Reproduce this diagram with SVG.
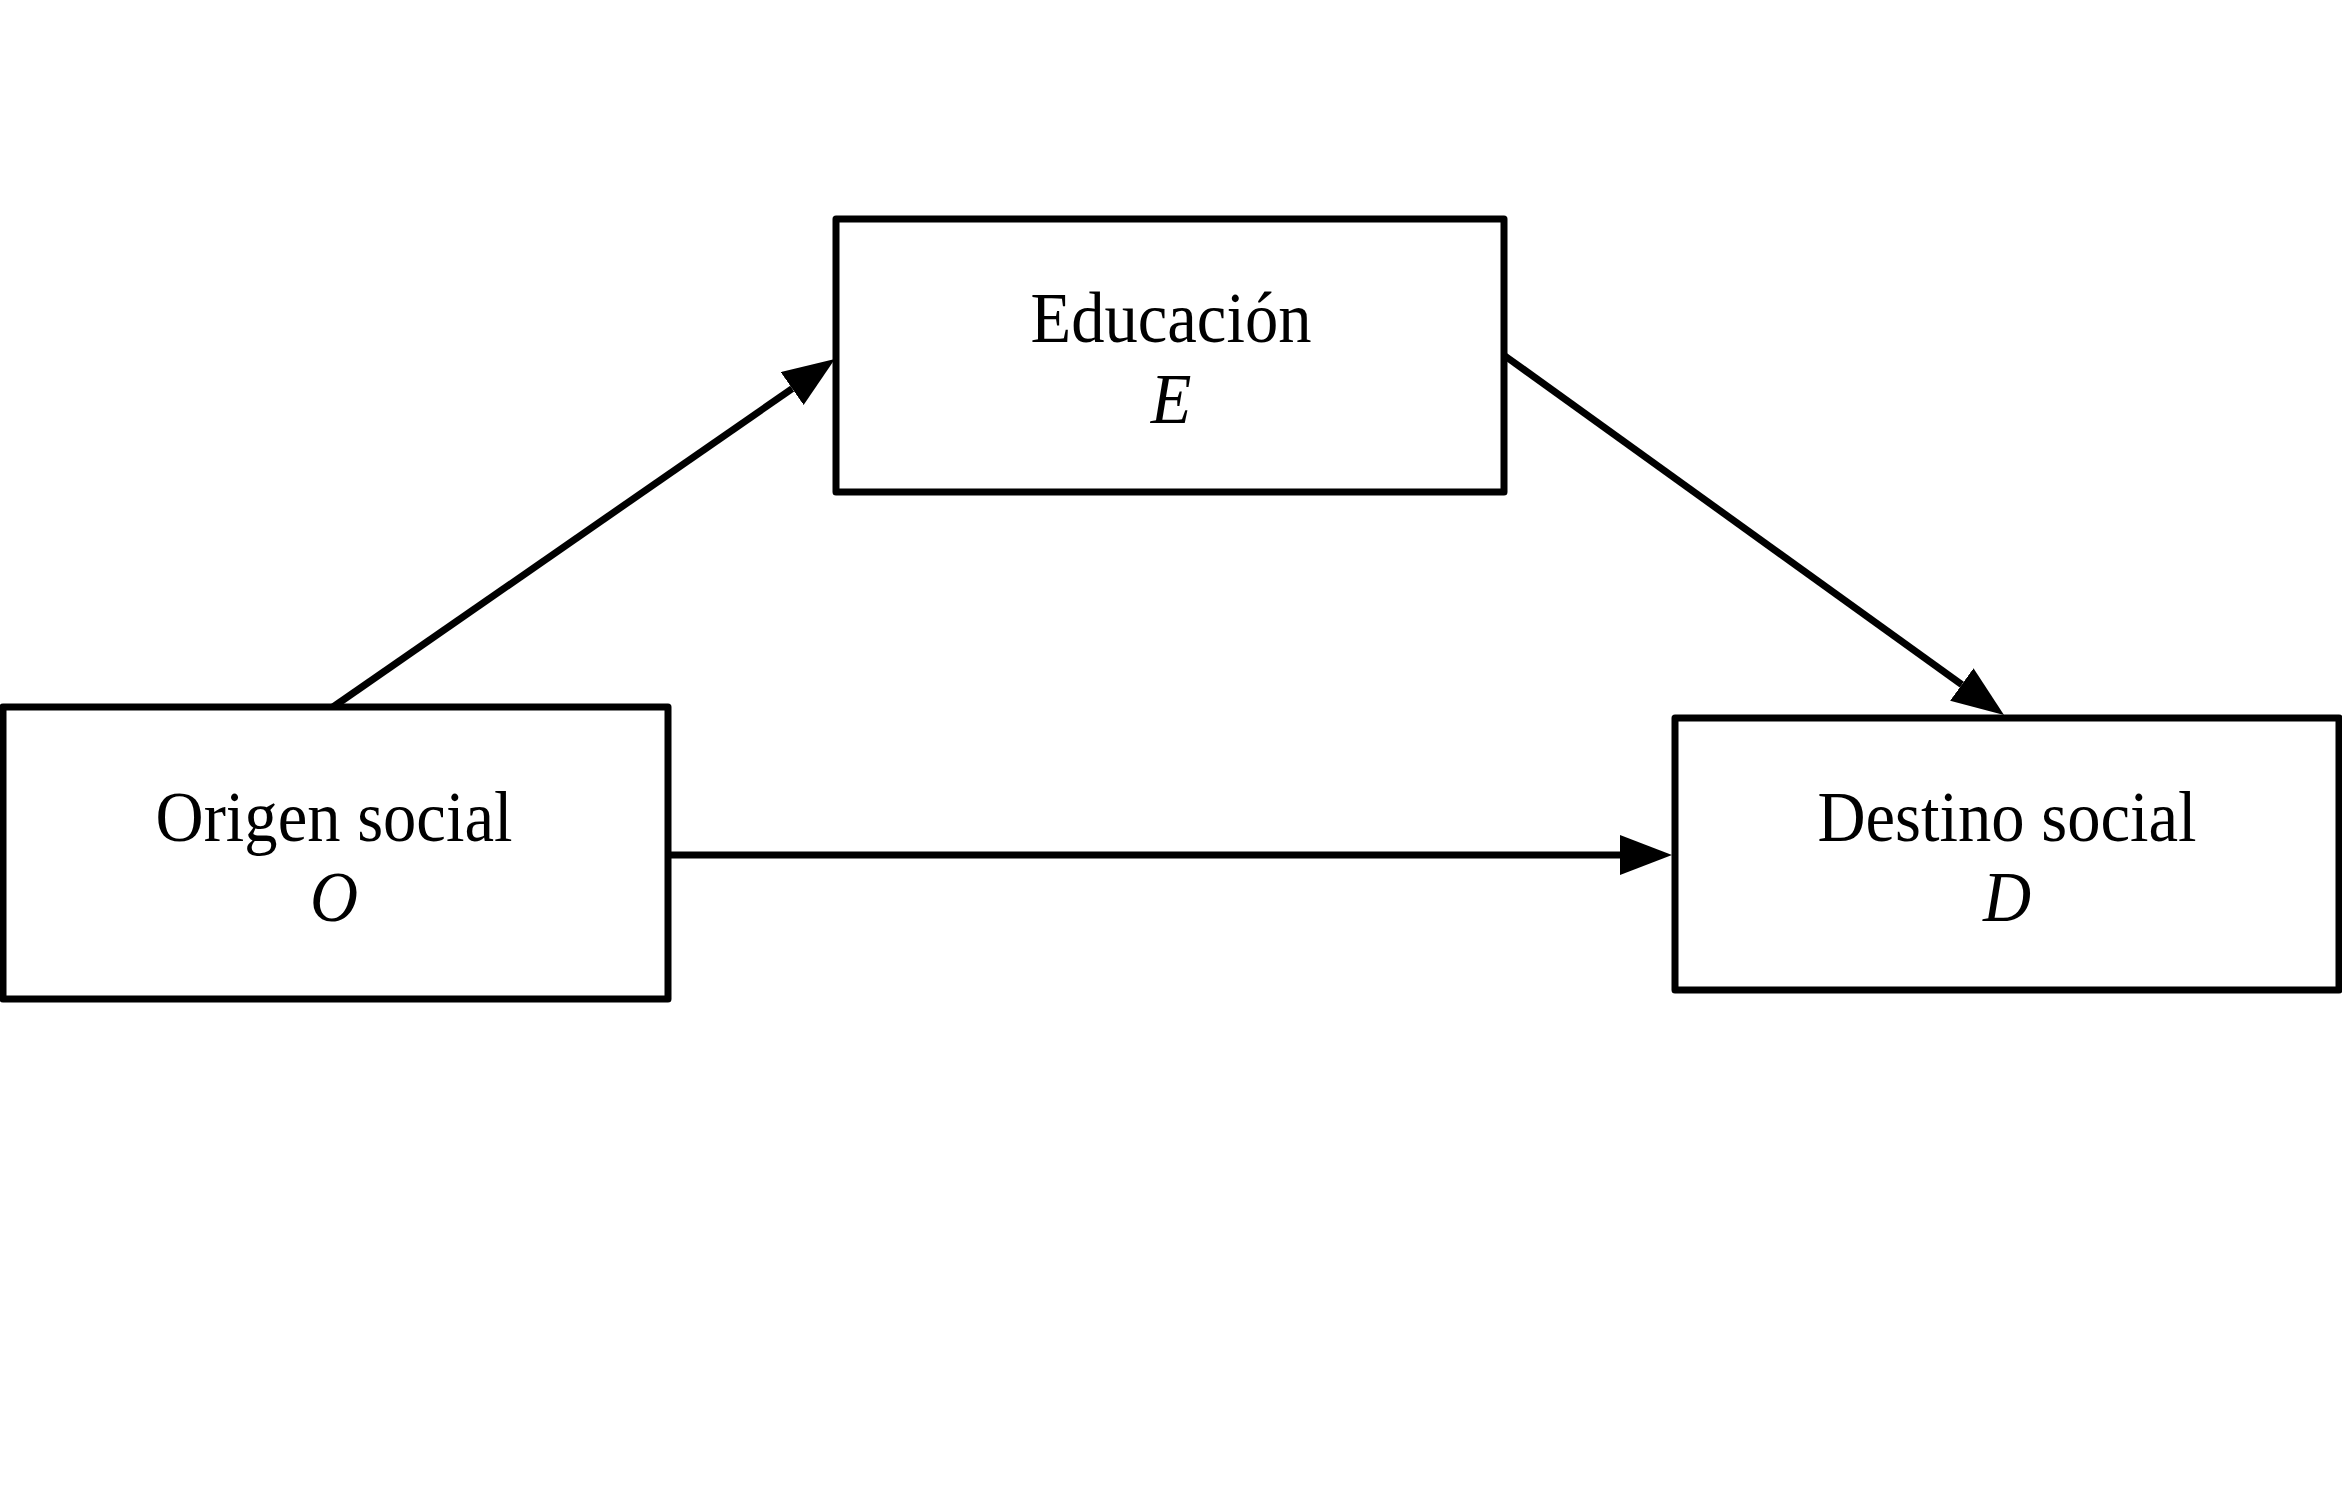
<svg xmlns="http://www.w3.org/2000/svg" width="2342" height="1511" viewBox="0 0 2342 1511">
<style>
.box{fill:#fff;stroke:#000;stroke-width:7;stroke-linejoin:round}
.lbl{font-family:"Liberation Serif","Times New Roman",serif;font-size:72px;fill:#000;text-anchor:middle}
.var{font-style:italic}
.conn{stroke:#000;stroke-width:7;fill:none}
</style>
<defs>
<marker id="ah" markerUnits="userSpaceOnUse" markerWidth="54" markerHeight="42" refX="0" refY="20" orient="auto" viewBox="0 0 54 42">
<path d="M0,0 L52,20 L0,40 Z" fill="#000"/>
</marker>
</defs>
<rect width="2342" height="1511" fill="#fff"/>
<g id="connectors">
<line class="conn" x1="333" y1="707" x2="792.2" y2="388.6" marker-end="url(#ah)"/>
<line class="conn" x1="1505" y1="356" x2="1961.8" y2="684.6" marker-end="url(#ah)"/>
<line class="conn" x1="668" y1="855" x2="1620" y2="855" marker-end="url(#ah)"/>
</g>
<g id="node-educacion">
<rect class="box" x="836" y="219" width="668" height="273"/>
<text class="lbl" transform="translate(1171,342) scale(0.925,1)">Educación</text>
<text class="lbl var" transform="translate(1171,423) scale(0.925,1)">E</text>
</g>
<g id="node-origen">
<rect class="box" x="3" y="707" width="665" height="292"/>
<text class="lbl" transform="translate(334,841) scale(0.925,1)">Origen social</text>
<text class="lbl var" transform="translate(334,921) scale(0.925,1)">O</text>
</g>
<g id="node-destino">
<rect class="box" x="1675" y="718" width="664" height="272"/>
<text class="lbl" transform="translate(2007,841) scale(0.925,1)">Destino social</text>
<text class="lbl var" transform="translate(2007,921) scale(0.925,1)">D</text>
</g>
</svg>
